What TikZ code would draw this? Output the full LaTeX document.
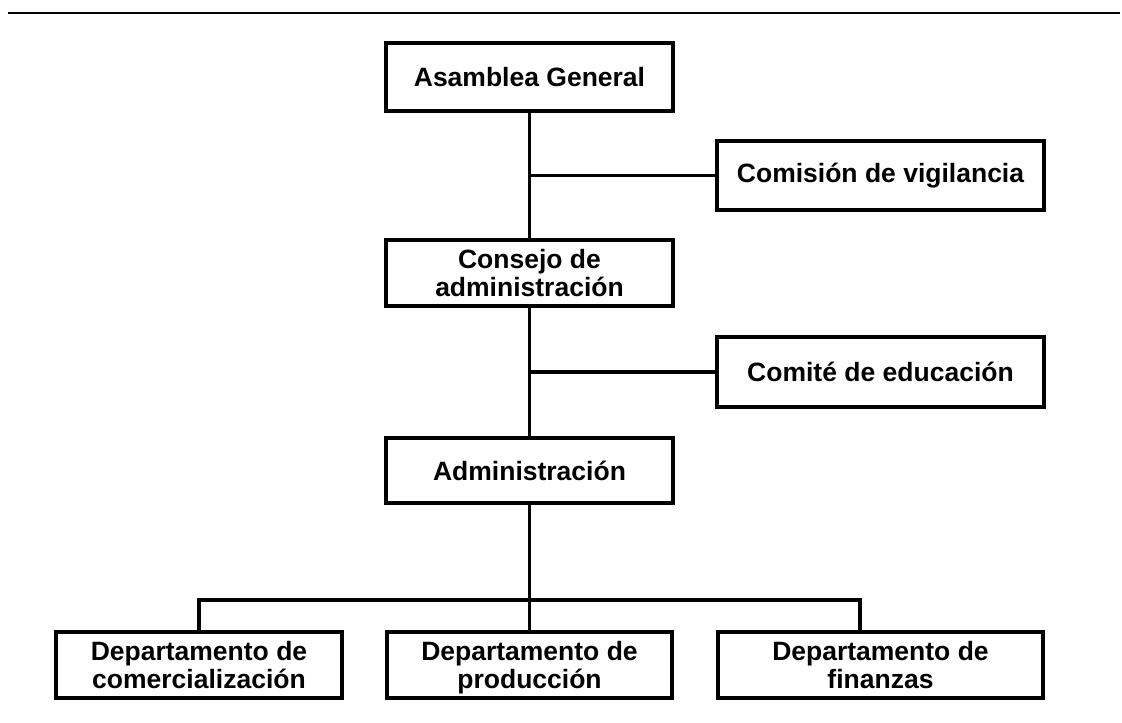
\documentclass[tikz,border=0pt]{standalone}
\usepackage{fontspec}
\setmainfont{Liberation Sans}
\begin{document}
\begin{tikzpicture}[x=1pt,y=1pt,
  orgbox/.style={draw=black,line width=3.8pt,fill=white,align=center,inner sep=0pt,
    font=\fontsize{26.5}{28}\selectfont\bfseries},
  twoline/.style={orgbox,text depth=0pt},
  conn/.style={draw=black,line width=3.2pt}]
\useasboundingbox (0,0) rectangle (1122,723);
% top rule
\coordinate (ruleL) at (8,710);
\coordinate (ruleR) at (1120,710);
\draw[line width=2.2pt] (ruleL) -- (ruleR);
% boxes
\node[orgbox,minimum width=287pt,minimum height=68pt] (AG) at (529.5,646) {Asamblea General};
\node[orgbox,minimum width=327pt,minimum height=69pt] (CV) at (880.5,547.5) {Comisión de vigilancia};
\node[twoline,minimum width=287pt,minimum height=66pt] (CA) at (529.5,450) {Consejo de\\administración};
\node[orgbox,minimum width=327pt,minimum height=70pt] (CE) at (880.5,351) {Comité de educación};
\node[orgbox,minimum width=287pt,minimum height=65pt] (AD) at (529.5,252.5) {Administración};
\node[twoline,minimum width=286pt,minimum height=66pt] (DC) at (199,58) {Departamento de\\comercialización};
\node[twoline,minimum width=285pt,minimum height=66pt] (DP) at (529.5,58) {Departamento de\\producción};
\node[twoline,minimum width=325pt,minimum height=66pt] (DF) at (880.5,58) {Departamento de\\finanzas};
% connectors
\coordinate (busL) at (199,123);
\coordinate (busR) at (860,123);
\draw[conn] (AG.south) -- (CA.north);
\draw[conn] (CA.south) -- (AD.north);
\draw[conn] (AD.south) -- (DP.north);
\draw[conn] (CV.west) -- (CV.west -| AG.south);
\draw[conn] (CE.west) -- (CE.west -| AG.south);
\draw[conn] (DC.north) -- (busL) -- (busR) -- (busR |- DF.north);
\end{tikzpicture}
\end{document}
